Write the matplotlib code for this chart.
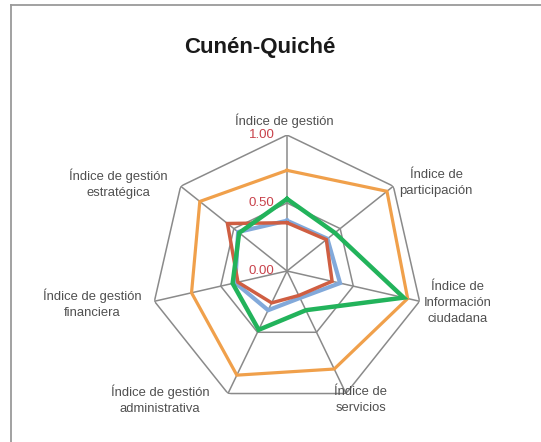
import numpy as np
import matplotlib
matplotlib.use("Agg")
import matplotlib.pyplot as plt
from matplotlib.lines import Line2D

plt.rcParams["font.family"] = ["Liberation Sans", "DejaVu Sans"]

# chart data
categories = [
    "Índice de gestión",
    "Índice de\nparticipación",
    "Índice de\nInformación\nciudadana",
    "Índice de\nservicios",
    "Índice de gestión\nadministrativa",
    "Índice de gestión\nfinanciera",
    "Índice de gestión\nestratégica",
]
orange_vals = [0.74, 0.94, 0.91, 0.80, 0.85, 0.72, 0.82]
blue_vals = [0.37, 0.38, 0.40, 0.22, 0.32, 0.39, 0.46]
red_vals = [0.355, 0.37, 0.34, 0.20, 0.26, 0.37, 0.56]
green_vals = [0.53, 0.45, 0.88, 0.32, 0.48, 0.41, 0.45]
r_ticks = [0.0, 0.5, 1.0]
r_tick_labels = ["0.00", "0.50", "1.00"]
title = "Cunén-Quiché"

W, H = 541, 442
fig = plt.figure(figsize=(W / 100, H / 100), dpi=100)

# polar axes: center (287, 271) px, radius 136 px
cx, cy, R = 287, 271, 136
ax = fig.add_axes([(cx - R) / W, (H - cy - R) / H, 2 * R / W, 2 * R / H],
                  projection="polar")
ax.set_theta_zero_location("N")
ax.set_theta_direction(-1)
ax.set_ylim(0, 1)
ax.grid(False)
ax.spines["polar"].set_visible(False)
ax.set_xticks([])
ax.set_yticks([])
ax.patch.set_alpha(0)

n = len(categories)
angles = np.linspace(0, 2 * np.pi, n, endpoint=False)
closed = np.append(angles, angles[0])

grid_col = "#8a8a8a"
for r in r_ticks[1:]:
    ax.plot(closed, [r] * (n + 1), color=grid_col, lw=1.1, zorder=1)
for a in angles:
    ax.plot([a, a], [0, 1], color=grid_col, lw=1.1, zorder=1)

series = [
    (orange_vals, "#F0A04B", 2.3),
    (blue_vals, "#82A9DA", 3.0),
    (red_vals, "#CF5E42", 2.5),
    (green_vals, "#22B35B", 3.2),
]
for vals, col, lw in series:
    ax.plot(closed, vals + vals[:1], color=col, lw=lw, zorder=3,
            solid_joinstyle="miter")

for r, lab in zip(r_ticks, r_tick_labels):
    ax.annotate(lab, xy=(0, r), xytext=(-9, 0), textcoords="offset points",
                ha="right", va="center", color="#C8414A", fontsize=9.5,
                zorder=5)

# category labels (centre of text block, in pixels)
label_pos = [(284, 121), (436, 183), (458, 303), (361, 400),
             (160, 400), (92, 304), (118, 184)]
for lab, (px, py) in zip(categories, label_pos):
    fig.text(px / W, 1 - py / H, lab, ha="center", va="center",
             fontsize=9.4, color="#505050", linespacing=1.42,
             multialignment="center")

fig.text(260 / W, 1 - 47 / H, title, ha="center", va="center",
         fontsize=16, fontweight="bold", color="#1a1a1a")

# frame lines (top and left)
fig.add_artist(Line2D([10.5 / W, 1], [1 - 4.5 / H, 1 - 4.5 / H],
                      transform=fig.transFigure, color="#9a9a9a", lw=1.3))
fig.add_artist(Line2D([10.5 / W, 10.5 / W], [0, 1 - 4.5 / H],
                      transform=fig.transFigure, color="#9a9a9a", lw=1.3))

fig.savefig("out.png", dpi=100)
